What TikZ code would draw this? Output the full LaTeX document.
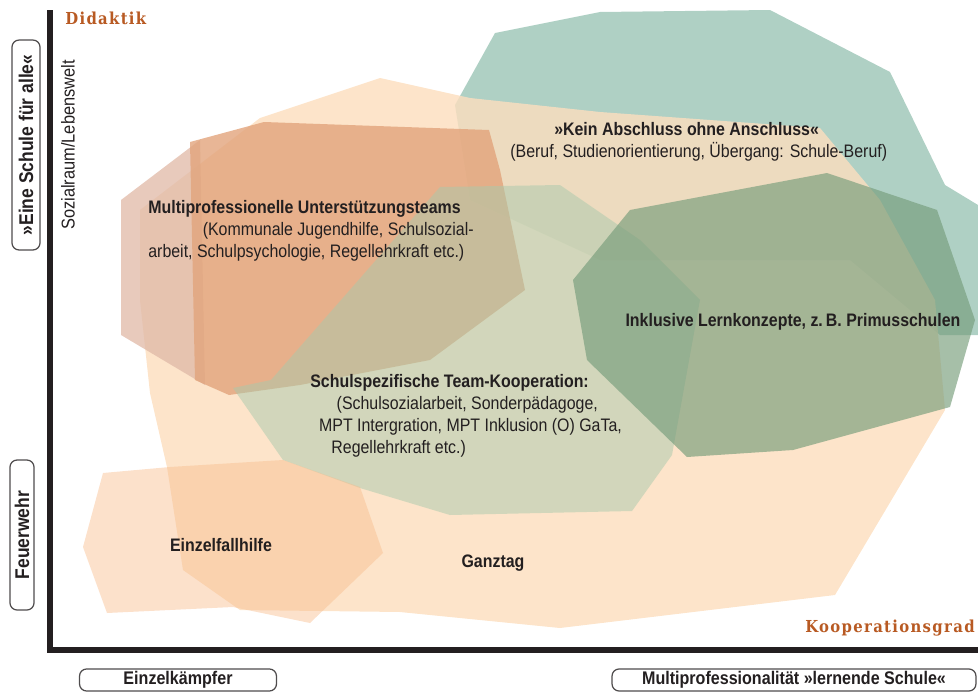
\documentclass[tikz,border=0pt]{standalone}
\usepackage{fontspec}
\setmainfont{Liberation Sans}[FakeStretch=0.88]
\newfontfamily\slabfont{DejaVu Serif}[FakeStretch=0.9,LetterSpace=8]
\usetikzlibrary{positioning}
\definecolor{tealblob}{RGB}{166,203,190}
\definecolor{ganztag}{RGB}{252,222,190}
\definecolor{multileft}{RGB}{224,184,166}
\definecolor{multi}{RGB}{226,164,124}
\definecolor{schul}{RGB}{168,202,172}
\definecolor{inkl}{RGB}{118,156,122}
\definecolor{einzel}{RGB}{248,188,140}
\definecolor{rost}{RGB}{184,90,35}
\definecolor{ink}{RGB}{35,31,32}
\tikzset{
blob/.style={
    draw=none,
    fill opacity=#1
},
blob/.default=0.8,
axis/.style={
    line width=3.4pt,
    ink
},
title/.style={
    text=ink,
    inner sep=0pt,
    font=\fontsize{10.3}{12.5}\selectfont\bfseries
},
block/.style={
    text=ink,
    inner sep=0pt,
    align=left,
    anchor=north west,
    font=\fontsize{10.3}{12.5}\selectfont
},
corner/.style={
    text=rost,
    inner sep=0pt,
    font=\slabfont\fontsize{9.4}{11}\selectfont\bfseries
},
tagbox/.style={
    draw=ink!80,
    line width=0.7pt,
    rounded corners=4pt,
    inner sep=0pt,
    text=ink,
    font=\fontsize{10.4}{11}\selectfont\bfseries
},
tall/.style={
    rotate=90,
    font=\fontsize{11.3}{12}\selectfont\bfseries
}}

\begin{document}
\begin{tikzpicture}[x=0.02cm, y=-0.02cm]
\useasboundingbox (0,0) rectangle (978,693);

% flaechen
\fill[tealblob, blob=0.9] (455,105) -- (495,33) -- (600,12) -- (770,10) -- (890,72) -- (945,185) -- (978,205) -- (978,335) -- (940,335) -- (850,260) -- (600,260) -- (470,200) -- cycle;
\fill[ganztag, blob=0.82] (140,210) -- (260,118) -- (380,78) -- (470,98) -- (600,112) -- (820,128) -- (880,200) -- (935,300) -- (945,410) -- (835,595) -- (560,628) -- (400,612) -- (240,610) -- (183,570) -- (167,467) -- (150,393) -- (140,300) -- cycle;
\fill[multileft, blob=0.75] (121,200) -- (200,140) -- (205,385) -- (121,335) -- cycle;
\fill[multi, blob=0.8] (190,142) -- (264,122) -- (489,130) -- (500,170) -- (525,290) -- (430,360) -- (300,385) -- (229,395) -- (195,380) -- cycle;
\fill[schul, blob=0.5] (440,187) -- (560,185) -- (640,240) -- (700,300) -- (672,455) -- (632,511) -- (450,515) -- (360,488) -- (283,460) -- (233,388) -- (271,380) -- cycle;
\fill[inkl, blob=0.65] (573,280) -- (630,210) -- (827,173) -- (937,210) -- (975,320) -- (950,407) -- (793,450) -- (687,457) -- (587,360) -- cycle;
\fill[einzel, blob=0.45] (103,473) -- (170,467) -- (283,460) -- (360,487) -- (383,553) -- (310,623) -- (233,607) -- (107,613) -- (83,547) -- cycle;

% achsen
\coordinate (top)    at (50,10);
\coordinate (origin) at (50,650);
\coordinate (right)  at (978,650);
\draw[axis] (top) -- (origin) -- (right);

% beschriftung achsen
\node[corner, anchor=west]  (didaktik) at (65,18)   {Didaktik};
\node[corner, anchor=east]  (koop)     at (975,628) {Kooperationsgrad};
\node[block, anchor=center, rotate=90, font=\fontsize{10.6}{11}\selectfont] (sozial) at (68,145) {Sozialraum/Lebenswelt};

\node[tagbox, tall, minimum width=4.2cm, minimum height=0.56cm]  (schulealle) at (26,145)  {»Eine Schule für alle«};
\node[tagbox, tall, minimum width=3cm, minimum height=0.48cm]    (feuerwehr)  at (22,535)  {Feuerwehr};
\node[tagbox, minimum width=3.94cm, minimum height=0.44cm]       (einzelk)    at (178,680) {Einzelkämpfer};
\node[tagbox, minimum width=7.28cm, minimum height=0.44cm]       (lernende)   at (794,680) {Multiprofessionalität »lernende Schule«};

% texte in den flaechen
\node[block] (kein)  at (510,122) {\hspace*{25pt}\textbf{»Kein Abschluss ohne Anschluss«}\\(Beruf, Studienorientierung, Übergang: Schule-Beruf)};
\node[block] (mpt)   at (148,200) {\textbf{Multiprofessionelle Unterstützungsteams}\\\hspace*{31pt}(Kommunale Jugendhilfe, Schulsozial-\\arbeit, Schulpsychologie, Regellehrkraft etc.)};
\node[block] (team)  at (310,374) {\textbf{Schulspezifische Team-Kooperation:}\\\hspace*{15pt}(Schulsozialarbeit, Sonderpädagoge,\\\hspace*{5pt}MPT Intergration, MPT Inklusion (O) GaTa,\\\hspace*{12pt}Regellehrkraft etc.)};
\node[title] (inkl)  at (793,322) {Inklusive Lernkonzepte, z.\,B. Primusschulen};
\node[title] (einzelfall) at (221,545) {Einzelfallhilfe};
\node[title] (ganztag)    at (493,563) {Ganztag};
\end{tikzpicture}
\end{document}
